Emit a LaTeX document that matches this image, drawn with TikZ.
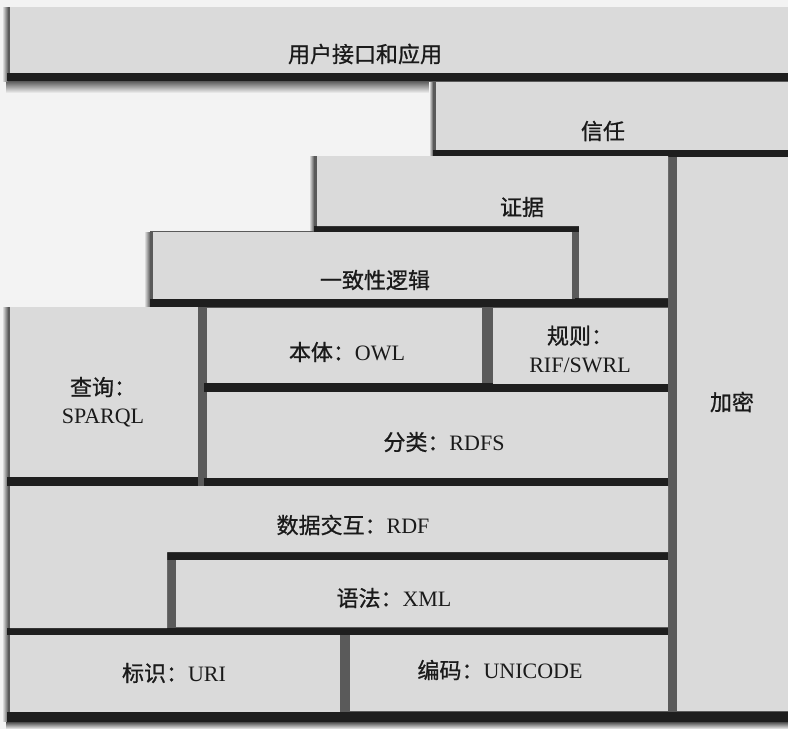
\documentclass[tikz,border=0pt]{standalone}
\usepackage{fontspec}
\setmainfont{Liberation Serif}
\newfontfamily\cjk[FakeBold=0.9]{Noto Sans CJK SC}
\newcommand\cj[1]{{\cjk #1}}
\definecolor{bgc}{HTML}{F3F3F3}
\definecolor{blockc}{HTML}{DADADA}
\definecolor{mortar}{HTML}{5A5A5A}
\definecolor{shadowc}{HTML}{1E1E1E}
\definecolor{txt}{HTML}{1A1A1A}
\tikzset{
  blockfill/.style={fill=blockc},
  shad/.style={fill=shadowc},
  lbl/.style={text=txt, font=\fontsize{22}{28}\selectfont, inner sep=0pt, align=center}
}
\begin{document}
\begin{tikzpicture}[x=1pt,y=-1pt]
\useasboundingbox (0,0) rectangle (788,729);
\fill[bgc] (0,0) rectangle (788,729);
% soft shadow fuzz
\shade[top color=mortar, bottom color=bgc] (6,81) rectangle (433,93);
\shade[top color=shadowc, bottom color=bgc] (6,720) rectangle (788,729);
\shade[left color=bgc, right color=mortar] (2,7) rectangle (8,81);
\shade[left color=bgc, right color=mortar] (2,307) rectangle (8,721);
\shade[left color=bgc, right color=mortar] (144,232) rectangle (150,307);
\shade[left color=bgc, right color=mortar] (309,156) rectangle (314,230);
\shade[left color=bgc, right color=mortar] (429,82) rectangle (433,156);
% mortar (gaps)
\fill[mortar] (8,7) -- (788,7) -- (788,721) -- (8,721) -- (8,307) -- (150,307)
  -- (150,231) -- (314,231) -- (314,156) -- (433,156) -- (433,81) -- (8,81) -- cycle;
% dark bottom shadows
\fill[shad] (7,73) rectangle (788,81);
\fill[shad] (433,150) rectangle (788,157);
\fill[shad] (314,226) -- (579,226) -- (579,232) -- (314,232) -- cycle;
\fill[shad] (575,298) rectangle (668,307);
\fill[shad] (150,299) rectangle (575,307);
\fill[shad] (7,477) rectangle (198,486);
\fill[shad] (204,383) rectangle (668,392);
\fill[shad] (204,478) rectangle (668,486);
\fill[shad] (164,552) rectangle (668,560);
\fill[shad] (7,628) rectangle (668,635);
\fill[shad] (7,712) rectangle (788,722);
% blocks
\fill[blockfill] (10,7) rectangle (788,73);
\fill[blockfill] (436,82) rectangle (788,150);
\fill[blockfill] (317,156) -- (668,156) -- (668,298) -- (579,298) -- (579,226) -- (317,226) -- cycle;
\fill[blockfill] (153,232) rectangle (572,299);
\fill[blockfill] (10,307) rectangle (198,477);
\fill[blockfill] (207,308) rectangle (482,383);
\fill[blockfill] (493,308) rectangle (668,384);
\fill[blockfill] (207,392) rectangle (668,478);
\fill[blockfill] (10,486) -- (668,486) -- (668,552) -- (167,552) -- (167,628) -- (10,628) -- cycle;
\fill[blockfill] (176,560) rectangle (668,627);
\fill[blockfill] (10,635) rectangle (340,712);
\fill[blockfill] (350,635) rectangle (668,711);
\fill[blockfill] (677,157) rectangle (788,711);
% labels
\node[lbl] (ui) at (365,54) {\cj{用户接口和应用}};
\node[lbl] (trust) at (603,131) {\cj{信任}};
\node[lbl] (proof) at (522,207) {\cj{证据}};
\node[lbl] (logic) at (375,280) {\cj{一致性逻辑}};
\node[lbl] (query) at (103,402) {\cj{查询：}\\SPARQL};
\node[lbl] (onto) at (347,352) {\cj{本体：}OWL};
\node[lbl] (rules) at (580,349) {\cj{规则：}\\RIF/SWRL};
\node[lbl] (rdfs) at (444,442) {\cj{分类：}RDFS};
\node[lbl] (rdf) at (353,525) {\cj{数据交互：}RDF};
\node[lbl] (xml) at (394,598) {\cj{语法：}XML};
\node[lbl] (uri) at (174,673) {\cj{标识：}URI};
\node[lbl] (uni) at (500,670) {\cj{编码：}UNICODE};
\node[lbl] (crypto) at (732,402) {\cj{加密}};
\end{tikzpicture}
\end{document}
